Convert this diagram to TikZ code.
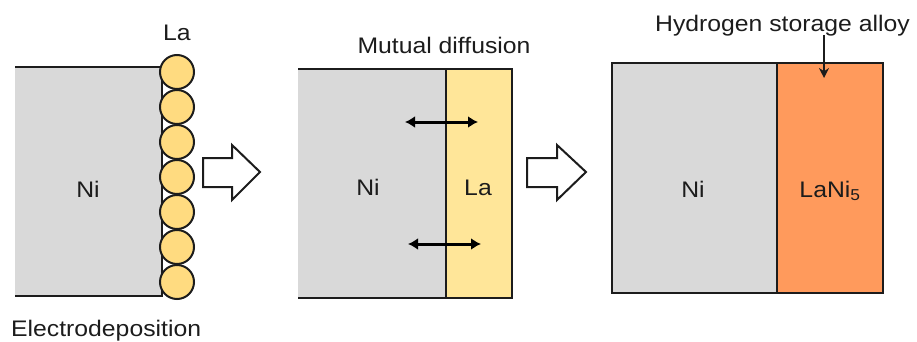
\documentclass[tikz,border=0pt]{standalone}
\usepackage{fontspec}
\setmainfont[FakeStretch=1.1]{Liberation Sans}
\usetikzlibrary{arrows.meta}
\definecolor{nigray}{HTML}{D9D9D9}
\definecolor{lacirc}{HTML}{FFDB80}
\definecolor{lalayer}{HTML}{FFE699}
\definecolor{alloy}{HTML}{FF9A5C}
\definecolor{ink}{HTML}{1C1C1C}
\tikzset{
  lbl/.style={font=\fontsize{22.5}{26}\selectfont, text=ink, inner sep=0pt},
  edge/.style={draw=ink, line width=2pt},
  blockarrow/.style={draw=ink, line width=2pt, fill=white, line join=miter},
  diffarrow/.style={draw=black, line width=3pt, {Latex[length=10pt,width=12pt]}-{Latex[length=10pt,width=12pt]}},
  ptr/.style={draw=ink, line width=2pt, -{Stealth[length=10pt,width=10pt]}},
  atom/.style={circle, draw=ink, line width=2pt, fill=lacirc, minimum size=34pt, inner sep=0pt}
}
\begin{document}
\begin{tikzpicture}[x=1pt,y=-1pt]
\useasboundingbox (0,0) rectangle (917,342);
% ---- panel 1 ----
\fill[nigray] (15,67) rectangle (162,296);
\draw[edge] (15,67) -- (162,67) -- (162,296) -- (15,296);
\foreach \k in {0,...,6} {
  \node[atom] (c\k) at (177,{72+35*\k}) {};
}
\node[lbl, anchor=base] (la1) at (177,41) {La};
\node[lbl, anchor=base] (ni1) at (88,197) {Ni};
\node[lbl, anchor=base west] (electro) at (11,336) {Electrodeposition};
% ---- block arrow 1 ----
\draw[blockarrow] (203,158) -- (232,158) -- (232,145) -- (260,172) -- (232,200) -- (232,187) -- (203,187) -- cycle;
% ---- panel 2 ----
\fill[nigray] (298,69) rectangle (446,298);
\fill[lalayer] (446,69) rectangle (512,298);
\draw[edge] (298,69) -- (512,69) -- (512,298) -- (298,298);
\draw[edge] (446,69) -- (446,298);
\node[lbl, anchor=base] (mutual) at (444,54) {Mutual diffusion};
\node[lbl, anchor=base] (ni2) at (368,195) {Ni};
\node[lbl, anchor=base] (la2) at (478,195) {La};
\coordinate (d1a) at (405,122);
\coordinate (d1b) at (478,122);
\coordinate (d2a) at (408,244);
\coordinate (d2b) at (481,244);
\draw[diffarrow] (d1a) -- (d1b);
\draw[diffarrow] (d2a) -- (d2b);
% ---- block arrow 2 ----
\draw[blockarrow] (527,158) -- (557,158) -- (557,145) -- (586,172) -- (557,200) -- (557,187) -- (527,187) -- cycle;
% ---- panel 3 ----
\fill[nigray] (612,63) rectangle (777,293);
\fill[alloy] (777,63) rectangle (883,293);
\draw[edge] (612,63) rectangle (883,293);
\draw[edge] (777,63) -- (777,293);
\node[lbl, anchor=base] (ni3) at (693,197) {Ni};
\node[lbl, anchor=base] (lani) at (830,197) {LaNi\textsubscript{5}};
\node[lbl, anchor=base west] (hyd) at (655,32) {Hydrogen storage alloy};
\coordinate (pa) at (824,35);
\coordinate (pb) at (824,78);
\draw[ptr] (pa) -- (pb);
\end{tikzpicture}
\end{document}
